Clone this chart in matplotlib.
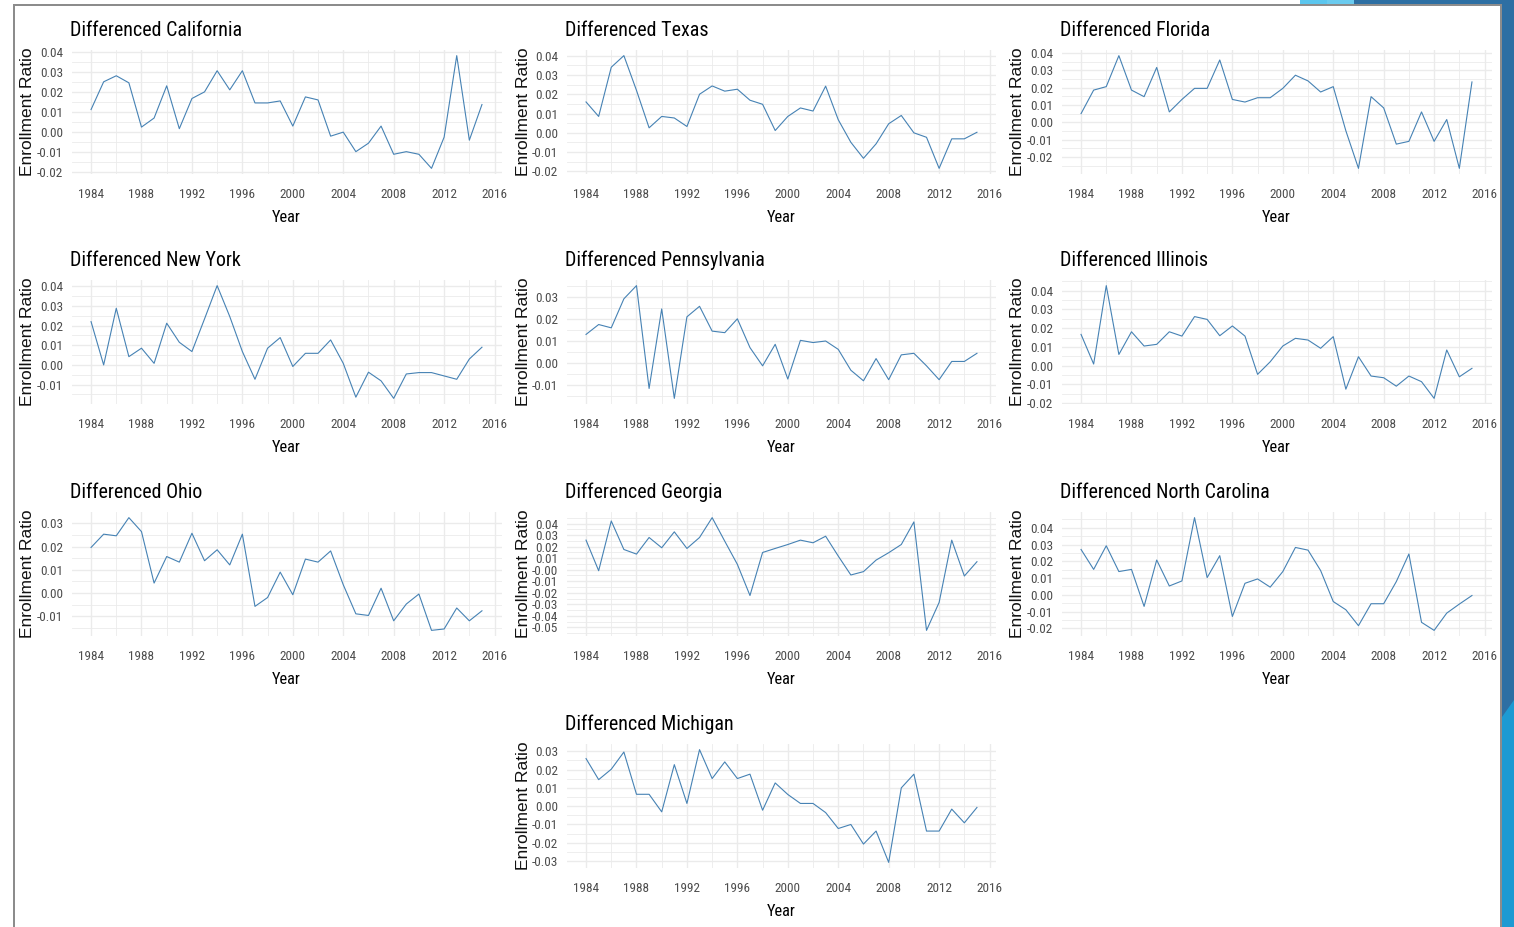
import os
import matplotlib
matplotlib.use("Agg")
import matplotlib.pyplot as plt
from matplotlib import font_manager
from matplotlib.font_manager import FontProperties
from matplotlib.ticker import MultipleLocator, FormatStrFormatter
from matplotlib.patches import Rectangle, Polygon

# ---------------------------------------------------------------- data
years = list(range(1984, 2016))

california = [0.0112, 0.0250, 0.0280, 0.0245, 0.0025, 0.0070, 0.0230, 0.0017,
              0.0167, 0.0200, 0.0305, 0.0210, 0.0305, 0.0145, 0.0145, 0.0155,
              0.0030, 0.0175, 0.0160, -0.0020, 0.0000, -0.0097, -0.0055, 0.0030,
              -0.0110, -0.0097, -0.0110, -0.0180, -0.0025, 0.0380, -0.0040, 0.0137]
texas = [0.0160, 0.0085, 0.0340, 0.0400, 0.0220, 0.0026, 0.0085, 0.0077,
         0.0033, 0.0200, 0.0243, 0.0216, 0.0226, 0.0169, 0.0148, 0.0012,
         0.0085, 0.0129, 0.0113, 0.0242, 0.0068, -0.0049, -0.0132, -0.0057,
         0.0047, 0.0090, 0.0000, -0.0023, -0.0184, -0.0031, -0.0031, 0.0003]
florida = [0.0050, 0.0186, 0.0206, 0.0385, 0.0186, 0.0148, 0.0317, 0.0060,
           0.0132, 0.0196, 0.0196, 0.0360, 0.0132, 0.0117, 0.0142, 0.0142,
           0.0196, 0.0272, 0.0239, 0.0175, 0.0206, -0.0049, -0.0266, 0.0148,
           0.0083, -0.0126, -0.0110, 0.0060, -0.0110, 0.0016, -0.0266, 0.0233]
new_york = [0.0220, 0.0000, 0.0288, 0.0042, 0.0085, 0.0008, 0.0212, 0.0115,
            0.0068, 0.0234, 0.0403, 0.0246, 0.0068, -0.0073, 0.0085, 0.0139,
            -0.0008, 0.0059, 0.0059, 0.0127, 0.0008, -0.0164, -0.0037, -0.0081,
            -0.0170, -0.0046, -0.0039, -0.0039, -0.0056, -0.0073, 0.0030, 0.0090]
pennsylvania = [0.0131, 0.0176, 0.0161, 0.0293, 0.0353, -0.0115, 0.0247, -0.0160,
                0.0211, 0.0259, 0.0146, 0.0139, 0.0202, 0.0071, -0.0012, 0.0086,
                -0.0072, 0.0104, 0.0094, 0.0101, 0.0063, -0.0032, -0.0080, 0.0021,
                -0.0075, 0.0038, 0.0045, -0.0012, -0.0075, 0.0008, 0.0008, 0.0045]
illinois = [0.0167, 0.0009, 0.0427, 0.0060, 0.0181, 0.0105, 0.0114, 0.0181,
            0.0158, 0.0262, 0.0247, 0.0160, 0.0212, 0.0158, -0.0046, 0.0021,
            0.0105, 0.0146, 0.0137, 0.0093, 0.0155, -0.0125, 0.0048, -0.0055,
            -0.0064, -0.0109, -0.0055, -0.0085, -0.0174, 0.0084, -0.0059, -0.0014]
ohio = [0.0196, 0.0253, 0.0246, 0.0324, 0.0264, 0.0043, 0.0157, 0.0133,
        0.0257, 0.0139, 0.0186, 0.0121, 0.0253, -0.0057, -0.0019, 0.0090,
        -0.0007, 0.0146, 0.0133, 0.0181, 0.0036, -0.0089, -0.0096, 0.0021,
        -0.0119, -0.0047, -0.0004, -0.0160, -0.0154, -0.0064, -0.0119, -0.0076]
georgia = [0.0256, -0.0009, 0.0422, 0.0175, 0.0135, 0.0279, 0.0190, 0.0328,
           0.0184, 0.0279, 0.0451, 0.0247, 0.0046, -0.0224, 0.0149, 0.0184,
           0.0218, 0.0256, 0.0233, 0.0290, 0.0118, -0.0046, -0.0017, 0.0083,
           0.0147, 0.0218, 0.0414, -0.0526, -0.0284, 0.0256, -0.0055, 0.0069]
north_carolina = [0.0271, 0.0152, 0.0293, 0.0139, 0.0152, -0.0069, 0.0208, 0.0053,
                  0.0083, 0.0461, 0.0103, 0.0234, -0.0129, 0.0069, 0.0095, 0.0046,
                  0.0139, 0.0283, 0.0267, 0.0145, -0.0040, -0.0089, -0.0184, -0.0053,
                  -0.0053, 0.0079, 0.0244, -0.0164, -0.0212, -0.0109, -0.0055, -0.0004]
michigan = [0.0260, 0.0145, 0.0202, 0.0296, 0.0065, 0.0065, -0.0031, 0.0227,
            0.0015, 0.0309, 0.0151, 0.0242, 0.0151, 0.0175, -0.0022, 0.0127,
            0.0064, 0.0015, 0.0015, -0.0035, -0.0122, -0.0100, -0.0207, -0.0136,
            -0.0307, 0.0100, 0.0175, -0.0136, -0.0136, -0.0016, -0.0091, -0.0007]

states = ["California", "Texas", "Florida", "New York", "Pennsylvania",
          "Illinois", "Ohio", "Georgia", "North Carolina", "Michigan"]
series = [california, texas, florida, new_york, pennsylvania,
          illinois, ohio, georgia, north_carolina, michigan]

# ---------------------------------------------------------------- fonts
def find_narrow():
    """Prefer a narrow / condensed sans face for horizontal text."""
    prefs = ["liberation", "roboto", "open sans", "noto sans", "lato", "dejavu"]
    found = []
    for f in font_manager.fontManager.ttflist:
        key = (f.name + " " + os.path.basename(f.fname)).lower()
        if ("narrow" in key or "condensed" in key) and f.style == "normal":
            if any(b in key for b in ("bold", "light", "thin", "black", "medium", "italic", "oblique")):
                continue
            rank = next((i for i, p in enumerate(prefs) if p in key), len(prefs))
            found.append((rank, f.fname))
    if found:
        found.sort()
        return FontProperties(fname=found[0][1])
    return FontProperties(family=["Liberation Sans", "DejaVu Sans"])


NARROW = find_narrow()
REGULAR = FontProperties(family=["Liberation Sans", "DejaVu Sans"])
plt.rcParams["axes.unicode_minus"] = False

# ---------------------------------------------------------------- layout
W, H = 1514, 927
fig = plt.figure(figsize=(W / 100, H / 100), dpi=100)
fig.patch.set_facecolor("white")
renderer = fig.canvas.get_renderer()


def size_for_width(text, target_px, fp):
    t = fig.text(0, 0, text, fontproperties=fp, size=10)
    w = t.get_window_extent(renderer).width
    t.remove()
    return 10 * target_px / w


title_size = size_for_width("Differenced California", 172, NARROW)
tick_size = size_for_width("1984", 26, NARROW)
xlab_size = size_for_width("Year", 29, NARROW)


def narrow(size):
    fp = NARROW.copy()
    fp.set_size(size)
    return fp


col_left = [71.5, 566.5, 1061.5]
row_top = [50, 280, 512, 744]
panel_w, panel_h = 430, 124

slots = [(0, 0), (0, 1), (0, 2),
         (1, 0), (1, 1), (1, 2),
         (2, 0), (2, 1), (2, 2),
         (3, 1)]

LINE = "#4682B4"
GRID = "#EBEBEB"
TICK = "#4D4D4D"

for name, vals, (r, c) in zip(states, series, slots):
    x0, y0 = col_left[c], row_top[r]
    ax = fig.add_axes([x0 / W, 1 - (y0 + panel_h) / H, panel_w / W, panel_h / H])
    ax.plot(years, vals, color=LINE, lw=0.8)

    # 5% expansion around the data range on both axes
    xr = years[-1] - years[0]
    ax.set_xlim(years[0] - 0.05 * xr, years[-1] + 0.05 * xr)
    lo, hi = min(vals), max(vals)
    yr = hi - lo
    ax.set_ylim(lo - 0.05 * yr, hi + 0.05 * yr)

    ax.xaxis.set_major_locator(MultipleLocator(4))
    ax.xaxis.set_minor_locator(MultipleLocator(2))
    ax.yaxis.set_major_locator(MultipleLocator(0.01))
    ax.yaxis.set_minor_locator(MultipleLocator(0.005))
    ax.yaxis.set_major_formatter(FormatStrFormatter("%.2f"))

    ax.grid(which="major", color=GRID, lw=1.0)
    ax.grid(which="minor", color=GRID, lw=0.6)
    ax.set_axisbelow(True)
    for s in ax.spines.values():
        s.set_visible(False)
    ax.tick_params(which="both", length=0)
    ax.tick_params(axis="x", pad=10, labelcolor=TICK)
    ax.tick_params(axis="y", pad=6, labelcolor=TICK)
    for lab in ax.get_xticklabels() + ax.get_yticklabels():
        lab.set_fontproperties(narrow(tick_size))

    ax.set_title(f"Differenced {name}", loc="left", pad=10,
                 color="black", fontproperties=narrow(title_size), x=-0.004)
    ax.set_xlabel("Year", color="black", fontproperties=narrow(xlab_size))
    ax.xaxis.label.set_va("center")
    ax.xaxis.set_label_coords(0.5, -44 / panel_h)
    fp_y = REGULAR.copy()
    fp_y.set_size(12.5)
    ax.set_ylabel("Enrollment Ratio", color="#111111", fontproperties=fp_y)
    ax.yaxis.label.set_va("center")
    ax.yaxis.set_label_coords(-43.5 / panel_w, 0.5)

# ---------------------------------------------------------------- slide frame


def px_rect(x, y, w, h, color, z=0):
    fig.add_artist(Rectangle((x / W, 1 - (y + h) / H), w / W, h / H,
                             transform=fig.transFigure, facecolor=color,
                             edgecolor="none", zorder=z))


px_rect(13, 4, 1489, 2, "#8C8C8C")
px_rect(13, 4, 2, H - 4, "#8C8C8C")
px_rect(1300, 0, 27, 4, "#5BC6EE")
px_rect(1327, 0, 27, 4, "#6ACBEF")
px_rect(1354, 0, W - 1354, 4, "#2D6FA3")
px_rect(1500, 4, 2, H - 4, "#8C8C8C")
px_rect(1502, 0, 12, H, "#2D6FA3")
fig.add_artist(Polygon([(1502 / W, 1 - 717 / H), (1.0, 1 - 700 / H),
                        (1.0, 0.0), (1502 / W, 0.0)],
                       closed=True, transform=fig.transFigure,
                       facecolor="#1C9AD2", edgecolor="none"))

fig.savefig("out.png", dpi=100, facecolor="white")
